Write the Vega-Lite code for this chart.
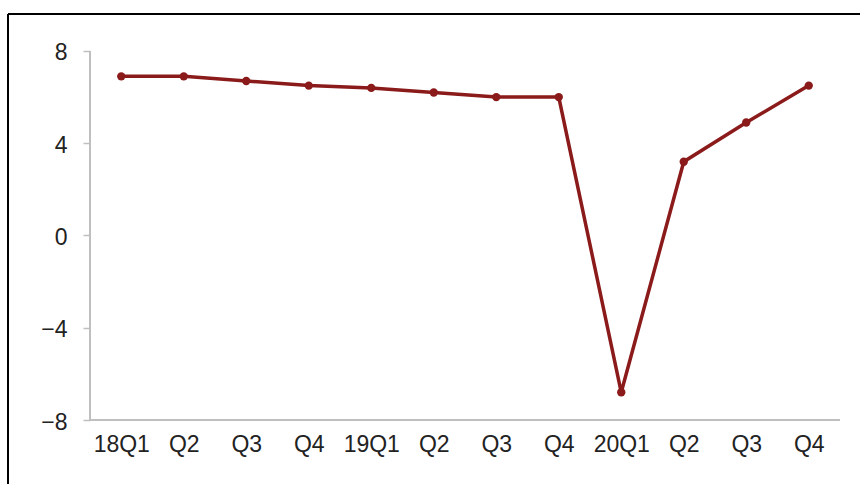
{
  "$schema": "https://vega.github.io/schema/vega-lite/v6.json",
  "width": 852,
  "height": 470,
  "autosize": "none",
  "padding": {"left": 8, "top": 14, "right": 0, "bottom": 0},
  "background": "white",
  "config": {"view": {"stroke": null}, "font": "Liberation Sans"},
  "data": {"values": [
    {"i": 1, "q": "18Q1", "v": 6.9},
    {"i": 2, "q": "Q2", "v": 6.9},
    {"i": 3, "q": "Q3", "v": 6.7},
    {"i": 4, "q": "Q4", "v": 6.5},
    {"i": 5, "q": "19Q1", "v": 6.4},
    {"i": 6, "q": "Q2", "v": 6.2},
    {"i": 7, "q": "Q3", "v": 6.0},
    {"i": 8, "q": "Q4", "v": 6.0},
    {"i": 9, "q": "20Q1", "v": -6.8},
    {"i": 10, "q": "Q2", "v": 3.2},
    {"i": 11, "q": "Q3", "v": 4.9},
    {"i": 12, "q": "Q4", "v": 6.5}
  ]},
  "layer": [
    {
      "mark": {"type": "rule", "color": "#000000", "strokeWidth": 1.2},
      "encoding": {
        "x": {"datum": -0.812, "type": "quantitative"},
        "y": {"datum": -10.775, "type": "quantitative"},
        "y2": {"datum": 9.604}
      }
    },
    {
      "mark": {"type": "rule", "color": "#000000", "strokeWidth": 1.2},
      "encoding": {
        "y": {"datum": 9.604, "type": "quantitative"},
        "x": {"datum": -0.812, "type": "quantitative"},
        "x2": {"datum": 12.82}
      }
    },
    {
      "mark": {"type": "rule", "color": "#BFBFBF", "strokeWidth": 1.5},
      "encoding": {
        "x": {"datum": 0.5, "type": "quantitative"},
        "y": {"datum": -8, "type": "quantitative"},
        "y2": {"datum": 8}
      }
    },
    {
      "mark": {"type": "rule", "color": "#BFBFBF", "strokeWidth": 1.5},
      "encoding": {
        "y": {"datum": -8, "type": "quantitative"},
        "x": {"datum": 0.5, "type": "quantitative"},
        "x2": {"datum": 12.5}
      }
    },
    {
      "mark": {"type": "line", "color": "#8B1A1A", "strokeWidth": 3.5, "point": {"filled": true, "size": 70, "color": "#8B1A1A"}},
      "encoding": {
        "x": {
          "field": "i", "type": "quantitative",
          "scale": {"domain": [-0.812, 12.82], "nice": false, "zero": false},
          "axis": {
            "orient": "bottom", "offset": -64, "values": [1,2,3,4,5,6,7,8,9,10,11,12],
            "labelExpr": "['','18Q1','Q2','Q3','Q4','19Q1','Q2','Q3','Q4','20Q1','Q2','Q3','Q4'][datum.value]",
            "domain": false, "ticks": false, "grid": false, "title": null,
            "labelFontSize": 23, "labelColor": "#222222", "labelPadding": 13, "labelFont": "Liberation Sans"
          }
        },
        "y": {
          "field": "v", "type": "quantitative",
          "scale": {"domain": [-10.775, 9.604], "nice": false, "zero": false},
          "axis": {
            "orient": "left", "offset": -82, "values": [-8,-4,0,4,8],
            "domain": false, "ticks": true, "tickSize": 7, "tickColor": "#BFBFBF", "tickWidth": 1.5,
            "grid": false, "title": null, "labelBaseline": "middle", "labelOffset": 2,
            "labelFontSize": 23, "labelColor": "#222222", "labelPadding": 16, "labelFont": "Liberation Sans"
          }
        }
      }
    }
  ]
}
